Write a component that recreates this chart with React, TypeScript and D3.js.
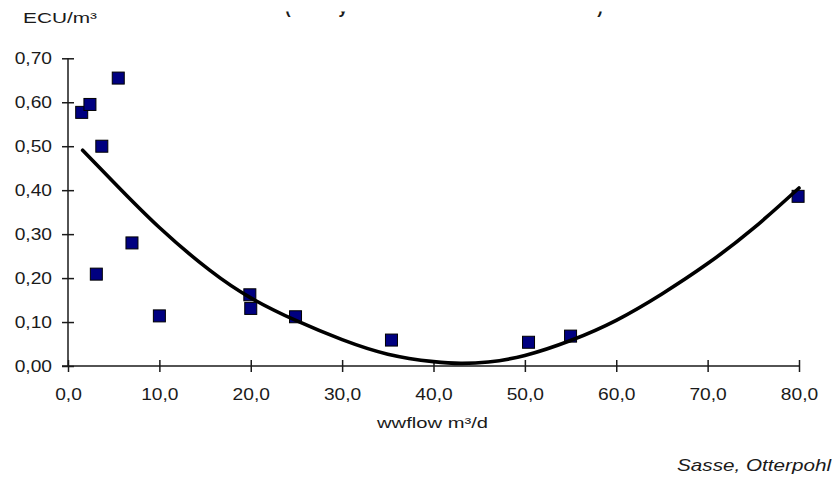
import React, { useEffect, useRef } from 'react'
import * as d3 from 'd3'

// measured points: wastewater flow (m³/d) vs cost (ECU/m³)
const flow = [1.5, 2.4, 5.5, 3.7, 3.1, 7.0, 10.0, 19.9, 20.0, 24.9, 35.4, 50.4, 55.0, 79.9]
const cost = [0.577, 0.595, 0.655, 0.5, 0.209, 0.28, 0.114, 0.162, 0.131, 0.112, 0.059, 0.054, 0.068, 0.386]

// polynomial trendline
const trendFlow = [1.6, 5, 10, 15.5, 20, 25, 30, 35, 40, 43, 46, 50, 55, 60, 65, 70, 75, 80]
const trendCost = [0.491, 0.418, 0.315, 0.218, 0.155, 0.103, 0.060, 0.027, 0.010, 0.006, 0.009, 0.024, 0.058, 0.104, 0.164, 0.233, 0.313, 0.405]

const xTicks = [0, 10, 20, 30, 40, 50, 60, 70, 80]
const yTicks = [0, 0.1, 0.2, 0.3, 0.4, 0.5, 0.6, 0.7]

const yUnit = 'ECU/m³'
const xTitle = 'wwflow m³/d'
const credit = 'Sasse, Otterpohl'
const titleBits = [{ ch: '(', x: 288 }, { ch: 'y', x: 343 }, { ch: ')', x: 600 }]

export default function App() {
    const xAxisRef = useRef(null)
    const yAxisRef = useRef(null)

    const width = 832
    const height = 477
    const margin = { top: 58.3, right: 33, bottom: 111, left: 68 }
    const font = 'Arial, "Liberation Sans", sans-serif'
    const ink = '#1a1a1a'

    const x = d3.scaleLinear().domain([0, 80]).range([margin.left, width - margin.right])
    const y = d3.scaleLinear().domain([0, 0.7]).range([height - margin.bottom, margin.top])

    const comma = (f: string) => (v: number) => d3.format(f)(v).replace('.', ',')

    const trendLine = d3.line<number>()
        .curve(d3.curveNatural)
        .x((d, i) => x(trendFlow[i]))
        .y(d => y(d))

    useEffect(() => {
        // x axis, ticks cross the line
        d3.select(xAxisRef.current)
            .attr('transform', `translate(0,${y(0)})`)
            .call(d3.axisBottom(x).tickValues(xTicks).tickFormat(comma('.1f')).tickSize(6).tickSizeOuter(0))
            .call(g => g.select('.domain').attr('d', `M${margin.left - 6},0H${x(80)}`))
            .call(g => g.selectAll('.tick line').attr('y1', -6))
            .call(g => g.selectAll('.tick text')
                .attr('y', 23)
                .attr('transform', 'scale(1.2,1)'))
            .call(g => g.selectAll('path, line').attr('stroke', ink).attr('stroke-width', 1.5))
            .attr('font-family', font)
            .attr('font-size', 16)
            .call(g => g.selectAll('text').attr('fill', ink))

        d3.select(yAxisRef.current)
            .attr('transform', `translate(${margin.left},0)`)
            .call(d3.axisLeft(y).tickValues(yTicks).tickFormat(comma('.2f')).tickSize(6).tickSizeOuter(0))
            .call(g => g.select('.domain').attr('d', `M0,${y(0.7)}V${y(0)}`))
            .call(g => g.selectAll('.tick line').attr('x1', 6))
            .call(g => g.selectAll('.tick text')
                .attr('x', -13.3)
                .attr('transform', 'scale(1.2,1)'))
            .call(g => g.selectAll('path, line').attr('stroke', ink).attr('stroke-width', 1.5))
            .attr('font-family', font)
            .attr('font-size', 16)
            .call(g => g.selectAll('text').attr('fill', ink))
    }, [])

    return (
        <svg width={width} height={height} style={{ position: 'absolute', left: 0, top: 0, background: '#fff' }}>
            <defs>
                <clipPath id="titleCut">
                    <rect x={0} y={11.5} width={width} height={8} />
                </clipPath>
            </defs>

            {/* remains of a cropped title */}
            <g clipPath="url(#titleCut)" fontFamily={font} fontSize={16} fontWeight="bold" fill={ink}>
                {titleBits.map(t => (
                    <text key={t.x} x={t.x} y={13.5} textAnchor="middle">{t.ch}</text>
                ))}
            </g>

            <text x={23} y={23} fontFamily={font} fontSize={14.5} fill={ink}
                textLength={74} lengthAdjust="spacingAndGlyphs">{yUnit}</text>

            <g ref={xAxisRef} />
            <g ref={yAxisRef} />

            {flow.map((f, i) => (
                <rect key={i} x={x(f) - 6} y={y(cost[i]) - 6} width={12} height={12}
                    fill="#000080" stroke="#000" strokeWidth={1} />
            ))}

            <path d={trendLine(trendCost) ?? ''} fill="none" stroke="#000" strokeWidth={3.6}
                strokeLinejoin="round" strokeLinecap="round" />

            <text x={377} y={428} fontFamily={font} fontSize={15} fill={ink}
                textLength={111} lengthAdjust="spacingAndGlyphs">{xTitle}</text>

            <text x={831} y={471} textAnchor="end" fontFamily={font} fontSize={17} fontStyle="italic" fill={ink}
                textLength={154} lengthAdjust="spacingAndGlyphs">{credit}</text>
        </svg>
    )
}
